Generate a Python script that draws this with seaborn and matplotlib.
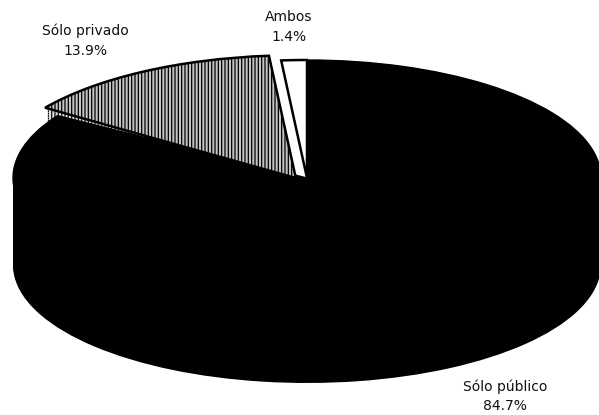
import numpy as np
import matplotlib
matplotlib.use("Agg")
import matplotlib.pyplot as plt
import seaborn as sns

categories = ["Ambos", "Sólo privado", "Sólo público"]
values = [1.4, 13.9, 84.7]
pct_labels = ["1.4%", "13.9%", "84.7%"]

W, H = 599, 415
CX, CY, RX, RY = 307, 178, 294, 118
DEPTH = 87

sns.set_theme(style="white")
plt.rcParams["font.family"] = ["DejaVu Sans"]
plt.rcParams["hatch.linewidth"] = 0.9

fig = plt.figure(figsize=(W / 100, H / 100), dpi=100)
ax = fig.add_axes([0, 0, 1, 1])

black = "#000000"

# side wall: stacked copies of the pie, shifted downward
for off in np.linspace(DEPTH / RY, 0.0, 45):
    w, _ = ax.pie(values, startangle=90, counterclock=True, radius=1.0,
                  center=(0, -off), colors=["none", "none", black],
                  wedgeprops=dict(linewidth=0))
    w[2].set_theta1(w[2].theta1 + 3)

# small wall under the displaced private slice
for off in np.linspace(12 / RY, 0.0, 8):
    w, _ = ax.pie(values, startangle=90, radius=1.03,
                  center=(-0.04, -off), colors=["none", "#dddddd", "none"],
                  wedgeprops=dict(linewidth=0))
    w[1].set_hatch("|||||")
    w[1].set_edgecolor(black)
    w[1].set_zorder(0.5)

# top face
top, _ = ax.pie(values, startangle=90, radius=1.0,
                colors=["white", "#c4c4c4", black],
                wedgeprops=dict(edgecolor=black, linewidth=1.0))
top[2].set_theta1(top[2].theta1 + 3)
top[1].set_center((-0.038, 0.0))
top[1].set_radius(1.04)
top[1].set_hatch("|||||")
top[1].set_edgecolor(black)
top[1].set_linewidth(1.8)
top[1].set_zorder(3)
top[0].set_linewidth(1.8)

ax.set_aspect("auto")
ax.set_xlim((0 - CX) / RX, (W - CX) / RX)
ax.set_ylim((CY - H) / RY, CY / RY)
ax.axis("off")

label_px = [(289, 27), (85, 41), (505, 396)]
for name, pct, (px, py) in zip(categories, pct_labels, label_px):
    ax.text(px / W, 1 - py / H, f"{name}\n{pct}", transform=ax.transAxes,
            ha="center", va="center", fontsize=10, color="#111111",
            linespacing=1.5)

fig.savefig("out.png", dpi=100)
